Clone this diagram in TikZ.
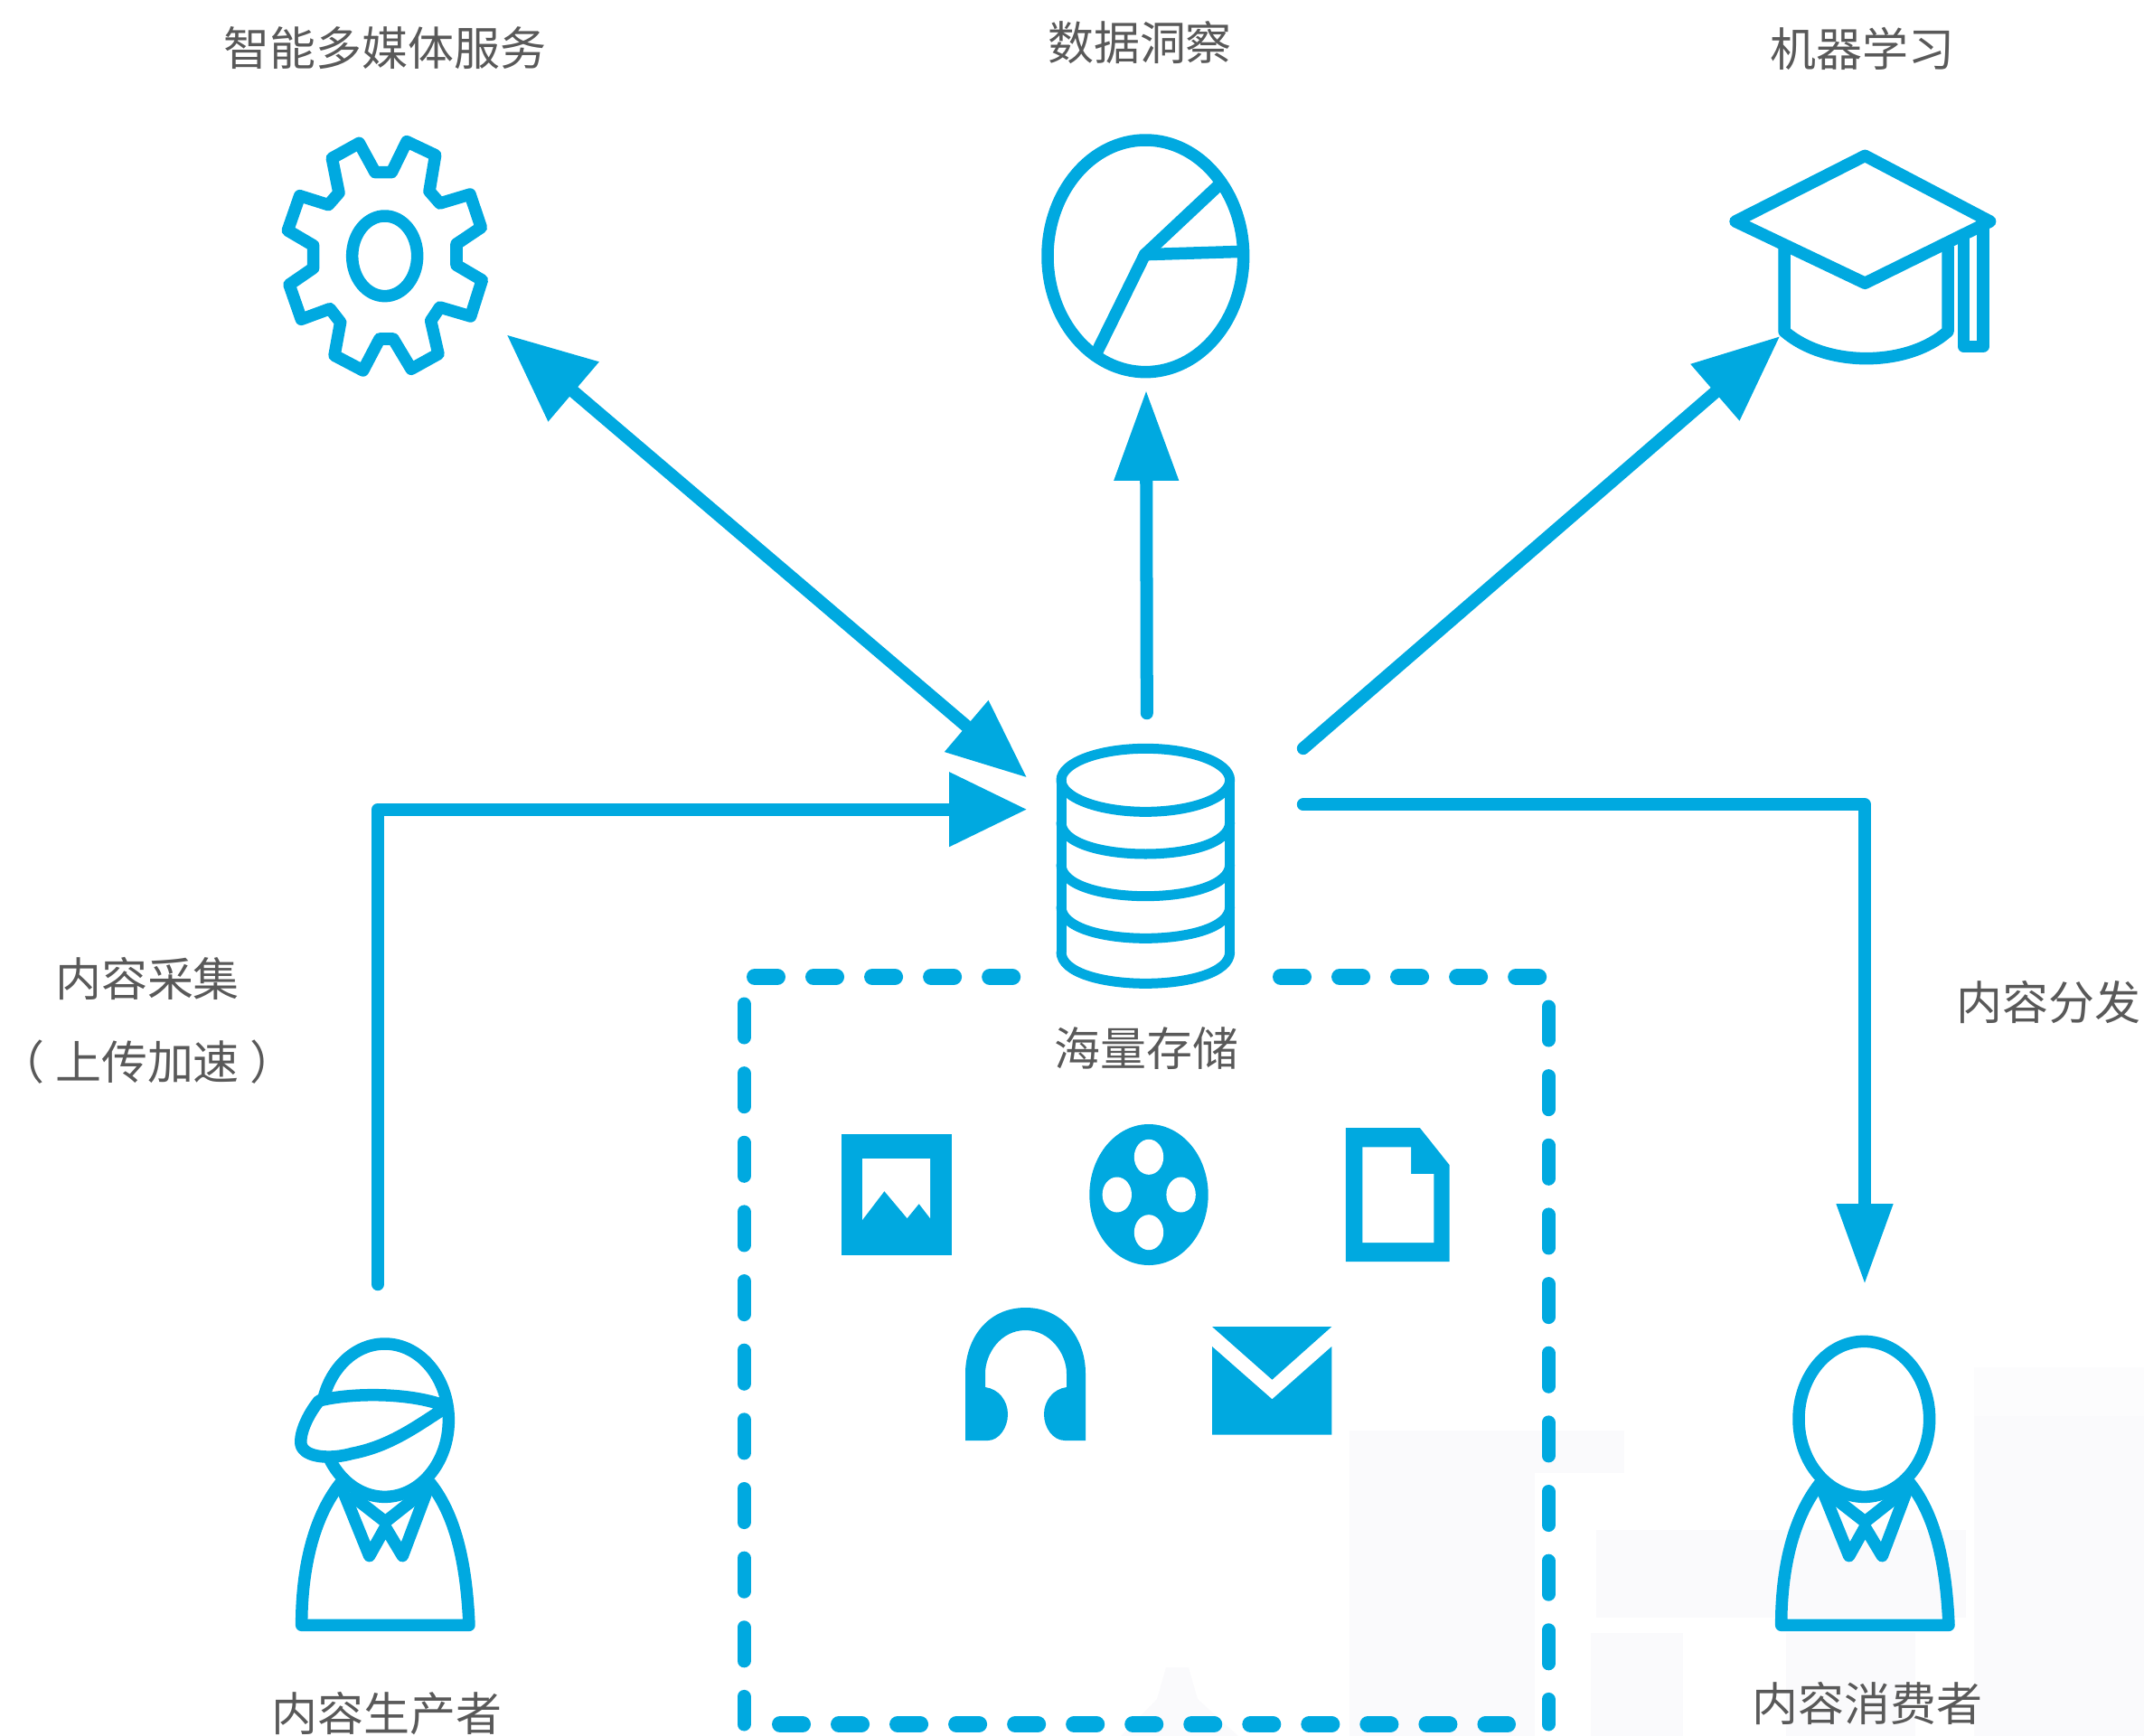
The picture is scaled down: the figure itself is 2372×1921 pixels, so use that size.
\documentclass[tikz,border=0pt]{standalone}
\usepackage{xcolor}
\usepackage{fontspec}
\setmainfont{Noto Sans CJK SC}
\usetikzlibrary{arrows.meta,positioning}

\definecolor{appblue}{HTML}{00A9E0}
\definecolor{labelgray}{HTML}{595959}
\definecolor{markgray}{HTML}{FAFAFC}

\newcommand{\personbody}{
    \draw[iconline] (190,545) .. controls (100,660) and (62,830) .. (62,1015) -- (618,1015) .. controls (610,830) and (580,660) .. (490,545);
    \draw[iconline] (200,570) -- (287,785) -- (340,690) -- (397,785) -- (478,570);
    \draw[iconline] (235,590) -- (340,672) -- (450,585);
}

\begin{document}
\begin{tikzpicture}[
    x=0.01cm, y=-0.01cm,
    icon/.style={rectangle, inner sep=0pt},
    caption/.style={inner sep=0pt, text=labelgray, font=\fontsize{14.5pt}{17pt}\selectfont, align=center},
    flow/.style={draw=appblue, line width=0.14cm, line cap=round, line join=round},
    headed/.style 2 args={-{Triangle[length=#1,width=#2]}},
    iconline/.style={draw=appblue, line width=0.135cm, line cap=round, line join=round},
    drumline/.style={iconline, line width=0.11cm},
    hedge/.style={draw=appblue, line width=0.18cm, line cap=round, dash pattern=on 0.25cm off 0.40cm},
    vedge/.style={draw=appblue, line width=0.15cm, line cap=round, dash pattern=on 0.37cm off 0.396cm}
]
    \useasboundingbox (0,0) rectangle (2372,1921);

    \fill[markgray] (1493,1630) rectangle (1698,1921);
    \fill[markgray] (1493,1583) rectangle (1797,1630);
    \fill[markgray] (1766,1693) rectangle (2175,1790);
    \fill[markgray] (1760,1807) rectangle (1862,1921);
    \fill[markgray] (1976,1807) rectangle (2119,1921);
    \fill[markgray] (2184,1567) rectangle (2372,1921);
    \fill[markgray!60] (2184,1513) rectangle (2372,1567);
    \fill[markgray] (1240,1921) -- (1280,1880) -- (1290,1845) -- (1315,1845) -- (1325,1880) -- (1370,1921) -- cycle;

    \node[icon, minimum width=2.68cm, minimum height=2.80cm] (media) at (426,283) {};
    \node[icon, minimum width=2.30cm, minimum height=2.96cm] (insight) at (1268,283) {};
    \node[icon, minimum width=1.80cm, minimum height=3.20cm] (learning) at (2060,260) {};
    \node[icon, minimum width=3.04cm, minimum height=2.06cm] (storage) at (1289,893) {};
    \node[icon, minimum width=1.76cm, minimum height=3.80cm] (producer) at (418,1612) {};
    \node[icon, minimum width=1.76cm, minimum height=3.80cm] (consumer) at (2063,1612) {};

    \node[caption, above=0.65cm of media] (mediaText) {智能多媒体服务};
    \node[caption, above=0.63cm of insight, xshift=-0.07cm] (insightText) {数据洞察};
    \node[caption, above=0.21cm of learning] (learningText) {机器学习};
    \node[caption] (storageText) at (1268,1160) {海量存储};
    \node[caption] (collectText) at (163,1083) {内容采集};
    \node[caption] (uploadText) at (163,1175) {（ 上传加速 ）};
    \node[caption] (deliverText) at (2266,1109) {内容分发};
    \node[caption] (producerText) at (428,1896) {内容生产者};
    \node[caption] (consumerText) at (2066,1885) {内容消费者};

    \draw[flow, {Triangle[length=0.97cm,width=0.83cm]}-{Triangle[length=0.88cm,width=0.71cm]}] (media.-33.6) -- (storage.168.5);
    \draw[flow, headed={1.00cm}{0.68cm}] (storage.101.5) -- (insight.south);
    \draw[flow, headed={0.95cm}{0.79cm}] (storage.23.5) -- (learning.231.9);
    \draw[flow, headed={0.86cm}{0.79cm}] (producer.north) |- (storage.181);
    \draw[flow, headed={0.89cm}{0.59cm}] (storage.1.5) -| (consumer.north);

    \draw[hedge] (835,1081) -- (1122,1081);
    \draw[hedge] (1417,1081) -- (1704,1081);
    \draw[hedge] (863,1908) -- (1668,1908);
    \draw[vedge] (823,1111) -- (823,1908);
    \draw[vedge] (1713,1114) -- (1713,1908);

    \begin{scope}[shift={(280,120)}, scale=1/3]
        \draw[iconline] (405,212) -- (352,115) -- (262,165) -- (285,280) -- (250,320) -- (155,290) -- (115,405) -- (200,455) -- (200,530) -- (120,585) -- (160,700) -- (255,665) -- (290,710) -- (270,820) -- (365,870) -- (420,765) -- (465,765) -- (525,865) -- (615,815) -- (590,705) -- (620,660) -- (722,690) -- (760,570) -- (675,520) -- (675,450) -- (757,395) -- (720,285) -- (620,315) -- (585,275) -- (605,155) -- (510,110) -- (460,212) -- cycle;
        \draw[iconline] (437,490) ellipse [x radius=108, y radius=133];
    \end{scope}

    \begin{scope}[shift={(1130,130)}, scale=1/3]
        \draw[iconline] (412,460) ellipse [x radius=325, y radius=385];
        \draw[iconline] (655,225) -- (410,455) -- (250,780);
        \draw[iconline] (410,455) -- (735,445);
    \end{scope}

    \begin{scope}[shift={(1880,140)}, scale=1/3]
        \draw[iconline] (550,97) -- (965,315) -- (550,520) -- (120,315) -- cycle;
        \draw[iconline] (282,405) -- (282,680) .. controls (420,800) and (690,800) .. (825,680) -- (825,400);
        \draw[iconline] (878,370) -- (878,730) -- (942,730) -- (942,330);
    \end{scope}

    \begin{scope}[shift={(1140,800)}, scale=1/3]
        \draw[drumline] (382,190) ellipse [x radius=280, y radius=105];
        \draw[drumline] (102,190) -- (102,760);
        \draw[drumline] (662,190) -- (662,760);
        \foreach \band in {330,470,610,760} {
            \draw[drumline] (102,\band) .. controls (102,\band+140) and (662,\band+140) .. (662,\band);
        }
    \end{scope}

    \begin{scope}[shift={(313,1460)}, scale=1/3]
        \draw[iconline] (338,335) ellipse [x radius=212, y radius=254];
        \draw[iconline, fill=white] (120,270) .. controls (80,320) and (55,380) .. (60,415) .. controls (70,460) and (160,465) .. (230,445) .. controls (360,420) and (450,350) .. (545,290) .. controls (430,242) and (230,242) .. (120,270) -- cycle;
        \personbody
    \end{scope}

    \begin{scope}[shift={(1950,1460)}, scale=1/3]
        \draw[iconline] (337,331) ellipse [x radius=217, y radius=258];
        \personbody
    \end{scope}

    \fill[appblue] (931,1255) rectangle (1053,1389);
    \fill[white] (954,1282) -- (1029,1282) -- (1029,1348) -- (1016.7,1332) -- (1003.6,1348) -- (978.4,1318) -- (954,1350) -- cycle;

    \fill[appblue] (1271,1322) ellipse [x radius=65.7, y radius=78];
    \fill[white] (1271,1280.3) ellipse [x radius=16.2, y radius=19.5];
    \fill[white] (1271,1363.7) ellipse [x radius=16.2, y radius=19.5];
    \fill[white] (1235.8,1322) ellipse [x radius=16.2, y radius=19.5];
    \fill[white] (1306.6,1322) ellipse [x radius=16.2, y radius=19.5];

    \fill[appblue] (1488.8,1248) -- (1570.8,1248) -- (1603.7,1289.3) -- (1603.7,1396) -- (1488.8,1396) -- cycle;
    \fill[white] (1507.3,1269.3) -- (1561,1269.3) -- (1561,1299) -- (1586.3,1299) -- (1586.3,1375) -- (1507.3,1375) -- cycle;

    \fill[appblue] (1068,1594) -- (1068,1520) .. controls (1068,1482) and (1092,1447) .. (1134.5,1447) .. controls (1177,1447) and (1201,1482) .. (1201,1520) -- (1201,1594) -- (1178,1594) .. controls (1165,1594) and (1155,1580) .. (1155,1565) .. controls (1155,1550) and (1165,1537) .. (1180,1535) -- (1180,1520) .. controls (1180,1498) and (1162,1472) .. (1134.5,1472) .. controls (1107,1472) and (1090,1498) .. (1090,1520) -- (1090,1535) .. controls (1105,1537) and (1115,1550) .. (1115,1565) .. controls (1115,1580) and (1105,1594) .. (1093,1594) -- cycle;

    \fill[appblue] (1341,1468) -- (1473.3,1468) -- (1407.4,1526.7) -- cycle;
    \fill[appblue] (1341,1490) -- (1407.4,1548.3) -- (1473.3,1490) -- (1473.3,1587.7) -- (1341,1587.7) -- cycle;
\end{tikzpicture}
\end{document}
